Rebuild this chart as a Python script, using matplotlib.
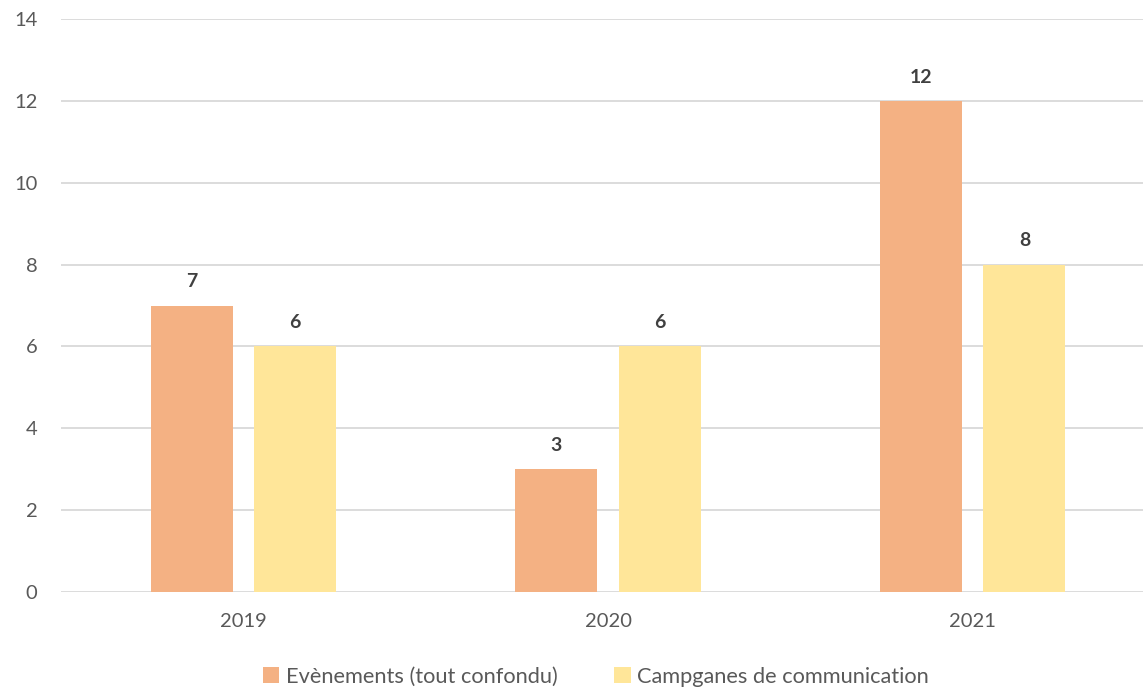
import numpy as np
import matplotlib.pyplot as plt

years = ['2019', '2020', '2021']
evenements = [7, 3, 12]
campagnes = [6, 6, 8]
series_labels = ['Evènements (tout confondu)', 'Campganes de communication']
colors = ['#F4B183', '#FFE699']

plt.rcParams['font.family'] = ['Lato', 'DejaVu Sans']

fig = plt.figure(figsize=(11.43, 6.87), dpi=100)
# plot area runs a little past the right edge of the figure
ax = fig.add_axes([61 / 1143, 1 - 592 / 687, 1094 / 1143, 573 / 687])

x = np.arange(len(years))
w = 0.225
off = 0.142
b1 = ax.bar(x - off, evenements, w, color=colors[0], label=series_labels[0], zorder=3)
b2 = ax.bar(x + off, campagnes, w, color=colors[1], label=series_labels[1], zorder=3)

for bars, vals in ((b1, evenements), (b2, campagnes)):
    for rect, v in zip(bars, vals):
        ax.annotate(str(v), (rect.get_x() + rect.get_width() / 2, v),
                    xytext=(0, 11), textcoords='offset points',
                    ha='center', va='bottom', fontsize=14, fontweight='bold',
                    color='#404040')

ax.set_xlim(-0.5, 2.5)
ax.set_ylim(0, 14)
ax.set_yticks(range(0, 15, 2))
ax.set_xticks(x)
ax.set_xticklabels(years)
ax.yaxis.grid(True, color='#D9D9D9', linewidth=1.3, zorder=0)
ax.set_axisbelow(True)
for s in ax.spines.values():
    s.set_visible(False)
ax.tick_params(axis='both', length=0, labelsize=14.5, colors='#595959')
ax.tick_params(axis='y', pad=17)
ax.tick_params(axis='x', pad=15)

fig.legend(handles=[b1, b2], loc='center', bbox_to_anchor=(596 / 1143, 1 - 677 / 687),
           ncol=2, frameon=False, fontsize=15.7, handlelength=0.75, handleheight=0.75,
           handletextpad=0.3, columnspacing=2.6, labelcolor='#595959')

fig.savefig('out.png', dpi=100)
